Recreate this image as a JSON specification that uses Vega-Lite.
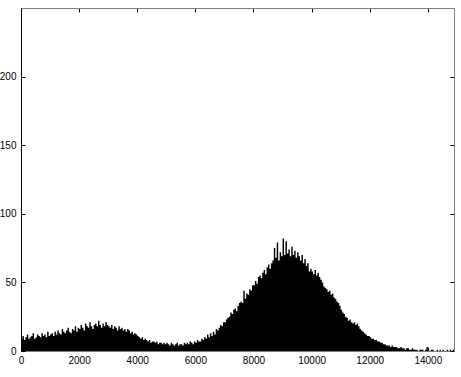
{
"$schema": "https://vega.github.io/schema/vega-lite/v6.json",
"width": 433, "height": 343,
"autosize": {"type": "none"},
"padding": {"left": 21, "top": 8, "right": 7, "bottom": 26},
"background": "white",
"config": {"view": {"stroke": null},
 "axis": {"labelFont": "Liberation Sans", "labelFontSize": 10, "labelColor": "#000", "grid": false, "ticks": true, "tickColor": "#000", "tickSize": -4, "domainColor": "#000", "title": null, "labelPadding": 9, "labelFlush": false, "format": "d"}},
"data": {"values": [
{"b":0,"n":9},{"b":50,"n":11},{"b":100,"n":8},{"b":150,"n":10},{"b":200,"n":12},{"b":250,"n":9},{"b":300,"n":10},{"b":350,"n":11},{"b":400,"n":13},{"b":450,"n":9},{"b":500,"n":10},{"b":550,"n":12},{"b":600,"n":11},{"b":650,"n":10},{"b":700,"n":13},{"b":750,"n":11},{"b":800,"n":12},{"b":850,"n":10},{"b":900,"n":14},{"b":950,"n":11},
{"b":1000,"n":12},{"b":1050,"n":13},{"b":1100,"n":11},{"b":1150,"n":14},{"b":1200,"n":12},{"b":1250,"n":15},{"b":1300,"n":13},{"b":1350,"n":12},{"b":1400,"n":16},{"b":1450,"n":14},{"b":1500,"n":13},{"b":1550,"n":15},{"b":1600,"n":17},{"b":1650,"n":14},{"b":1700,"n":13},{"b":1750,"n":16},{"b":1800,"n":15},{"b":1850,"n":18},{"b":1900,"n":14},{"b":1950,"n":17},
{"b":2000,"n":16},{"b":2050,"n":19},{"b":2100,"n":17},{"b":2150,"n":15},{"b":2200,"n":20},{"b":2250,"n":18},{"b":2300,"n":17},{"b":2350,"n":21},{"b":2400,"n":18},{"b":2450,"n":16},{"b":2500,"n":19},{"b":2550,"n":20},{"b":2600,"n":18},{"b":2650,"n":22},{"b":2700,"n":19},{"b":2750,"n":17},{"b":2800,"n":20},{"b":2850,"n":18},{"b":2900,"n":21},{"b":2950,"n":19},
{"b":3000,"n":18},{"b":3050,"n":17},{"b":3100,"n":19},{"b":3150,"n":16},{"b":3200,"n":18},{"b":3250,"n":17},{"b":3300,"n":15},{"b":3350,"n":18},{"b":3400,"n":16},{"b":3450,"n":17},{"b":3500,"n":15},{"b":3550,"n":16},{"b":3600,"n":14},{"b":3650,"n":16},{"b":3700,"n":15},{"b":3750,"n":13},{"b":3800,"n":14},{"b":3850,"n":12},{"b":3900,"n":13},{"b":3950,"n":12},
{"b":4000,"n":11},{"b":4050,"n":10},{"b":4100,"n":9},{"b":4150,"n":10},{"b":4200,"n":8},{"b":4250,"n":9},{"b":4300,"n":8},{"b":4350,"n":7},{"b":4400,"n":8},{"b":4450,"n":6},{"b":4500,"n":7},{"b":4550,"n":7},{"b":4600,"n":6},{"b":4650,"n":7},{"b":4700,"n":5},{"b":4750,"n":6},{"b":4800,"n":6},{"b":4850,"n":5},{"b":4900,"n":6},{"b":4950,"n":5},
{"b":5000,"n":6},{"b":5050,"n":5},{"b":5100,"n":4},{"b":5150,"n":6},{"b":5200,"n":5},{"b":5250,"n":4},{"b":5300,"n":5},{"b":5350,"n":6},{"b":5400,"n":4},{"b":5450,"n":5},{"b":5500,"n":5},{"b":5550,"n":4},{"b":5600,"n":6},{"b":5650,"n":5},{"b":5700,"n":6},{"b":5750,"n":5},{"b":5800,"n":7},{"b":5850,"n":6},{"b":5900,"n":5},{"b":5950,"n":7},
{"b":6000,"n":6},{"b":6050,"n":8},{"b":6100,"n":7},{"b":6150,"n":7},{"b":6200,"n":9},{"b":6250,"n":8},{"b":6300,"n":10},{"b":6350,"n":9},{"b":6400,"n":12},{"b":6450,"n":10},{"b":6500,"n":13},{"b":6550,"n":11},{"b":6600,"n":14},{"b":6650,"n":12},{"b":6700,"n":16},{"b":6750,"n":15},{"b":6800,"n":17},{"b":6850,"n":19},{"b":6900,"n":18},{"b":6950,"n":21},
{"b":7000,"n":21},{"b":7050,"n":23},{"b":7100,"n":24},{"b":7150,"n":25},{"b":7200,"n":28},{"b":7250,"n":27},{"b":7300,"n":30},{"b":7350,"n":31},{"b":7400,"n":29},{"b":7450,"n":33},{"b":7500,"n":35},{"b":7550,"n":36},{"b":7600,"n":35},{"b":7650,"n":44},{"b":7700,"n":38},{"b":7750,"n":42},{"b":7800,"n":41},{"b":7850,"n":45},{"b":7900,"n":44},{"b":7950,"n":48},
{"b":8000,"n":48},{"b":8050,"n":51},{"b":8100,"n":49},{"b":8150,"n":54},{"b":8200,"n":55},{"b":8250,"n":53},{"b":8300,"n":57},{"b":8350,"n":59},{"b":8400,"n":56},{"b":8450,"n":61},{"b":8500,"n":63},{"b":8550,"n":60},{"b":8600,"n":64},{"b":8650,"n":66},{"b":8700,"n":75},{"b":8750,"n":68},{"b":8800,"n":79},{"b":8850,"n":66},{"b":8900,"n":72},{"b":8950,"n":69},
{"b":9000,"n":82},{"b":9050,"n":70},{"b":9100,"n":80},{"b":9150,"n":71},{"b":9200,"n":74},{"b":9250,"n":69},{"b":9300,"n":76},{"b":9350,"n":70},{"b":9400,"n":73},{"b":9450,"n":68},{"b":9500,"n":72},{"b":9550,"n":69},{"b":9600,"n":66},{"b":9650,"n":70},{"b":9700,"n":64},{"b":9750,"n":67},{"b":9800,"n":62},{"b":9850,"n":64},{"b":9900,"n":58},{"b":9950,"n":60},
{"b":10000,"n":58},{"b":10050,"n":56},{"b":10100,"n":59},{"b":10150,"n":55},{"b":10200,"n":57},{"b":10250,"n":54},{"b":10300,"n":52},{"b":10350,"n":50},{"b":10400,"n":47},{"b":10450,"n":46},{"b":10500,"n":45},{"b":10550,"n":43},{"b":10600,"n":44},{"b":10650,"n":41},{"b":10700,"n":42},{"b":10750,"n":39},{"b":10800,"n":38},{"b":10850,"n":36},{"b":10900,"n":35},{"b":10950,"n":33},
{"b":11000,"n":30},{"b":11050,"n":28},{"b":11100,"n":27},{"b":11150,"n":25},{"b":11200,"n":24},{"b":11250,"n":22},{"b":11300,"n":23},{"b":11350,"n":21},{"b":11400,"n":20},{"b":11450,"n":21},{"b":11500,"n":19},{"b":11550,"n":20},{"b":11600,"n":18},{"b":11650,"n":16},{"b":11700,"n":15},{"b":11750,"n":14},{"b":11800,"n":13},{"b":11850,"n":12},{"b":11900,"n":11},{"b":11950,"n":11},
{"b":12000,"n":10},{"b":12050,"n":9},{"b":12100,"n":9},{"b":12150,"n":8},{"b":12200,"n":8},{"b":12250,"n":7},{"b":12300,"n":7},{"b":12350,"n":6},{"b":12400,"n":6},{"b":12450,"n":5},{"b":12500,"n":5},{"b":12550,"n":4},{"b":12600,"n":4},{"b":12650,"n":4},{"b":12700,"n":3},{"b":12750,"n":4},{"b":12800,"n":3},{"b":12850,"n":3},{"b":12900,"n":3},{"b":12950,"n":2},
{"b":13000,"n":2},{"b":13050,"n":3},{"b":13100,"n":2},{"b":13150,"n":2},{"b":13200,"n":1},{"b":13250,"n":2},{"b":13300,"n":2},{"b":13350,"n":1},{"b":13400,"n":1},{"b":13450,"n":2},{"b":13500,"n":1},{"b":13550,"n":1},{"b":13600,"n":1},{"b":13650,"n":0},{"b":13700,"n":1},{"b":13750,"n":1},{"b":13800,"n":1},{"b":13850,"n":0},{"b":13900,"n":1},{"b":13950,"n":3},
{"b":14000,"n":1},{"b":14050,"n":0},{"b":14100,"n":1},{"b":14150,"n":1},{"b":14200,"n":0},{"b":14250,"n":0},{"b":14300,"n":1},{"b":14350,"n":0},{"b":14400,"n":1},{"b":14450,"n":0},{"b":14500,"n":1},{"b":14550,"n":0},{"b":14600,"n":0},{"b":14650,"n":1},{"b":14700,"n":0},{"b":14750,"n":1},{"b":14800,"n":0},{"b":14850,"n":1},{"b":14900,"n":1}
]},
"layer": [
 {"mark": {"type": "area", "interpolate": "step-after", "color": "#000"},
  "encoding": {
   "x": {"field": "b", "type": "quantitative", "scale": {"domain": [0, 14900], "nice": false, "zero": false},
         "axis": {"orient": "bottom", "values": [0, 2000, 4000, 6000, 8000, 10000, 12000, 14000], "domainColor": "#808080", "title": null, "labelPadding": 8}},
   "y": {"field": "n", "type": "quantitative", "scale": {"domain": [0, 250], "nice": false},
         "axis": {"orient": "left", "values": [0, 50, 100, 150, 200], "title": null}}
  }},
 {"mark": {"type": "area", "opacity": 0},
  "encoding": {
   "x": {"field": "b", "type": "quantitative",
         "axis": {"orient": "top", "values": [0, 2000, 4000, 6000, 8000, 10000, 12000, 14000], "labels": false, "domainColor": "#808080", "title": null}},
   "y": {"field": "n", "type": "quantitative",
         "axis": {"orient": "right", "values": [0, 50, 100, 150, 200], "labels": false, "domainColor": "#808080", "title": null}}
  }}
],
"resolve": {"axis": {"x": "independent", "y": "independent"}}
}
